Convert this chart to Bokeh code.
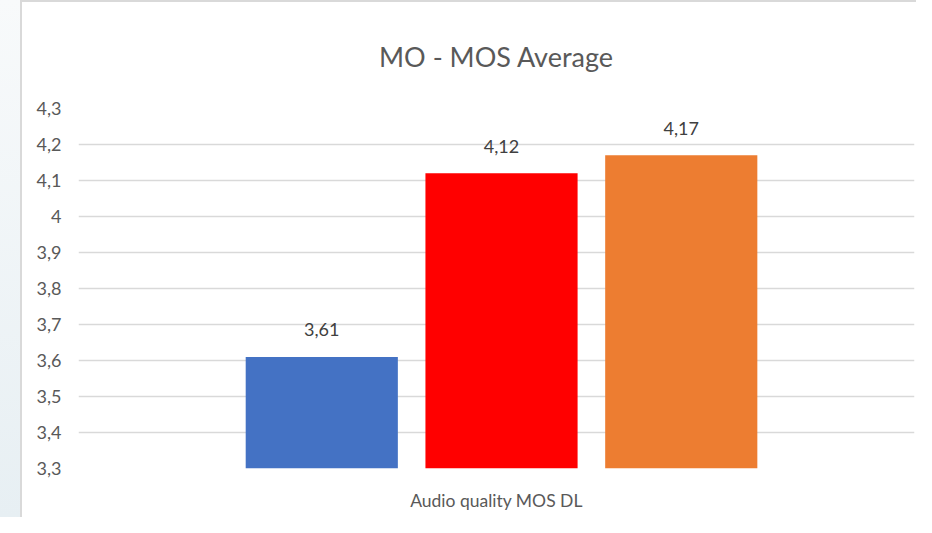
from bokeh.plotting import figure
from bokeh.models import (ColumnDataSource, FactorRange, Range1d, FixedTicker,
                          CustomJSTickFormatter, Spacer)
from bokeh.layouts import row, column
from bokeh.transform import dodge
from bokeh.core.properties import value
from bokeh.embed import file_html
from bokeh.resources import INLINE

# ---- data ----
categories = ["Audio quality MOS DL"]
series_names = ["S1", "S2", "S3"]
series_values = [3.61, 4.12, 4.17]
series_colors = ["#4472C4", "#FF0000", "#ED7D31"]
y_ticks = [3.3, 3.4, 3.5, 3.6, 3.7, 3.8, 3.9, 4.0, 4.1, 4.2, 4.3]
title_text = "MO - MOS Average"

FONT = "Lato"
y_start, y_end = y_ticks[0], y_ticks[-1]

p = figure(x_range=FactorRange(*categories), y_range=Range1d(y_start, y_end),
           width=894, height=515, output_backend="svg", toolbar_location=None,
           title=title_text, min_border_left=56, min_border_right=2,
           min_border_top=106, min_border_bottom=49)

p.title.align = "center"
p.title.vertical_align = "top"
p.title.text_font = FONT
p.title.text_font_size = "27px"
p.title.text_font_style = "normal"
p.title.text_color = "#595959"
p.title.standoff = 68

offsets = [-0.209, 0.006, 0.221]
for name, v, c, off in zip(series_names, series_values, series_colors, offsets):
    src = ColumnDataSource(dict(x=categories, top=[v], bottom=[y_start],
                                label=[f"{v:.2f}".replace(".", ",")]))
    p.vbar(x=dodge("x", off, range=p.x_range), top="top", bottom="bottom",
           width=0.182, source=src, fill_color=c, line_color=None)
    p.text(x=dodge("x", off, range=p.x_range), y="top", text="label", source=src,
           text_align="center", text_baseline="alphabetic", y_offset=-27,
           text_font=value(FONT), text_font_size="18px", text_color="#404040")

p.outline_line_color = None
p.background_fill_color = "white"
p.border_fill_color = "white"

p.xgrid.grid_line_color = None
p.ygrid.grid_line_color = "#d9d9d9"
p.ygrid.grid_line_width = 1.6
p.ygrid.level = "underlay"

p.yaxis.ticker = FixedTicker(ticks=y_ticks)
p.yaxis.formatter = CustomJSTickFormatter(
    code="return Number(tick.toFixed(1)).toString().replace('.', ',');")
p.yaxis.axis_line_color = None
p.yaxis.major_tick_line_color = None
p.yaxis.minor_tick_line_color = None
p.yaxis.major_tick_out = 0
p.yaxis.major_label_standoff = 17
p.yaxis.major_label_text_font = FONT
p.yaxis.major_label_text_font_size = "18px"
p.yaxis.major_label_text_color = "#595959"

p.xaxis.axis_line_color = None
p.xaxis.major_tick_line_color = None
p.xaxis.minor_tick_line_color = None
p.xaxis.major_tick_out = 0
p.xaxis.major_label_standoff = 21
p.xaxis.major_label_text_font = FONT
p.xaxis.major_label_text_font_size = "17.5px"
p.xaxis.major_label_text_color = "#595959"

left_strip = Spacer(width=20, height=517,
                    styles={"background": "linear-gradient(#f8fafb, #e7eff3)"})
left_border = Spacer(width=2, height=517, styles={"background-color": "#d9d9d9"})
top_border = Spacer(width=894, height=2, styles={"background-color": "#d9d9d9"})
layout = row(left_strip, left_border, column(top_border, p, spacing=0), spacing=0)

open("out.html", "w").write(file_html(layout, INLINE))
